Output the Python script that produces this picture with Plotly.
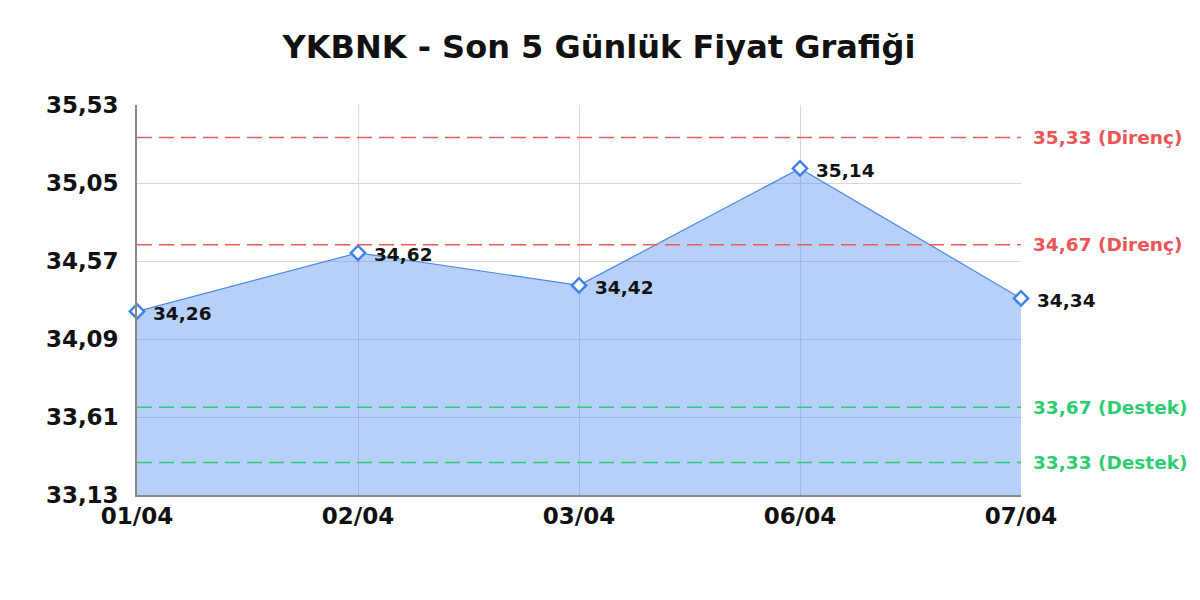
import plotly.graph_objects as go

# price data
dates = ["01/04", "02/04", "03/04", "06/04", "07/04"]
prices = [34.26, 34.62, 34.42, 35.14, 34.34]

# support / resistance levels
resistance = [35.33, 34.67]
support = [33.67, 33.33]

y_ticks = [33.13, 33.61, 34.09, 34.57, 35.05, 35.53]
y_ticktext = ["33,13", "33,61", "34,09", "34,57", "35,05", "35,53"]

def tr(v):
    return f"{v:.2f}".replace(".", ",")

fig = go.Figure()
fig.add_trace(go.Scatter(
    x=dates, y=prices, mode="lines+markers", fill="tozeroy",
    fillcolor="rgba(75,137,242,0.4)",
    line=dict(color="#4a86e8", width=1.2),
    marker=dict(symbol="diamond", size=11, color="white",
                line=dict(width=2.5, color="#3f7fea")),
    cliponaxis=False,
    hoverinfo="skip", showlegend=False,
))

shapes = []
annotations = []
for lvl in resistance:
    shapes.append(dict(type="line", xref="paper", x0=0, x1=1, yref="y", y0=lvl, y1=lvl,
                       line=dict(color="#e85c5c", width=1.4, dash="15px,7px")))
    annotations.append(dict(xref="paper", x=1, xshift=10, y=lvl, yref="y", xanchor="left",
                            text=f"<b>{tr(lvl)} (Direnç)</b>", showarrow=False,
                            font=dict(size=18.5, color="#ea5555")))
for lvl in support:
    shapes.append(dict(type="line", xref="paper", x0=0, x1=1, yref="y", y0=lvl, y1=lvl,
                       line=dict(color="#2ecc71", width=1.4, dash="15px,7px")))
    annotations.append(dict(xref="paper", x=1, xshift=10, y=lvl, yref="y", xanchor="left",
                            text=f"<b>{tr(lvl)} (Destek)</b>", showarrow=False,
                            font=dict(size=18.5, color="#2ecc71")))
for d, p in zip(dates, prices):
    annotations.append(dict(x=d, y=p, xanchor="left", xshift=14, yshift=-2, showarrow=False,
                            text=f"<b>{tr(p)}</b>", font=dict(size=18.5, color="#111")))

fig.update_layout(
    width=1200, height=600,
    margin=dict(l=129, r=187, t=97, b=113),
    paper_bgcolor="white", plot_bgcolor="white",
    font=dict(family="DejaVu Sans", color="#111"),
    title=dict(text="<b>YKBNK - Son 5 Günlük Fiyat Grafiği</b>", x=0.4925, xanchor="center",
               y=0.935, yanchor="middle", font=dict(size=32, color="#111")),
    shapes=shapes, annotations=annotations,
    xaxis=dict(range=[0, 4], showgrid=True, gridcolor="rgba(215,215,222,1)",
               showline=True, linecolor="#888", linewidth=1.5, ticks="",
               tickfont=dict(size=23, weight="bold"), zeroline=False),
    yaxis=dict(range=[33.13, 35.53], tickvals=y_ticks, ticktext=y_ticktext,
               showgrid=True, gridcolor="rgba(215,215,222,1)",
               showline=True, linecolor="#888", linewidth=1.5, ticks="",
               ticklabelstandoff=12,
               tickfont=dict(size=23, weight="bold"), zeroline=False),
)

fig.write_html("out.html")
